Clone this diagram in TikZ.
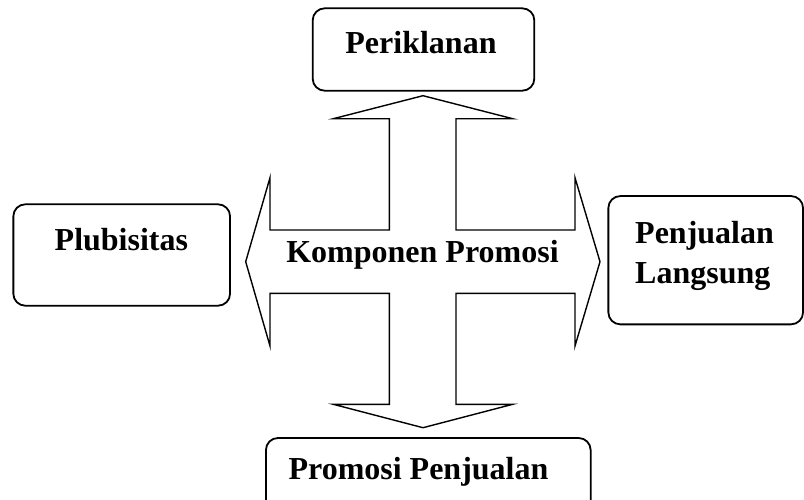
\documentclass[tikz,border=0pt]{standalone}
\usepackage{fontspec}
\setmainfont{Liberation Serif}
\usepackage{tikz}

\begin{document}
\begin{tikzpicture}[
    x=1pt, y=-1pt,
    box/.style={draw, line width=1.8pt, rounded corners=12pt, inner sep=0pt},
    caption/.style={font=\fontsize{32}{40}\selectfont\bfseries, inner sep=0pt},
    cross/.style={draw, line width=1.4pt, line join=miter}
]
    \useasboundingbox (0,0) rectangle (804,499);

    % BOXES
    \node[box, minimum width=221.6pt, minimum height=82.4pt] (periklanan) at (423.5,49.5) {};
    \node[box, minimum width=216.7pt, minimum height=101.4pt] (plubisitas) at (121.7,255) {};
    \node[box, minimum width=194.7pt, minimum height=128.3pt] (langsung) at (705.7,260.2) {};
    \node[box, minimum width=324.7pt, minimum height=77pt] (promosi) at (428.3,476.5) {};

    % CROSS ARROW
    \draw[cross] (389.3,118.7) -- (333.3,118.7) -- (423,95.7) -- (512.7,118.7) -- (456,118.7)
        -- (456,230) -- (575,230) -- (575,177.7) -- (600,261.7) -- (575,346) -- (575,293.3)
        -- (456,293.3) -- (456,404.3) -- (512.7,404.3) -- (423,427.7) -- (333.3,404.3) -- (389.3,404.3)
        -- (389.3,293.3) -- (270,293.3) -- (270,346) -- (245.7,261.7) -- (270,177.7) -- (270,230)
        -- (389.3,230) -- cycle;

    % TEXTS
    \node[caption, anchor=base] (komponen) at (422.5,262.7) {Komponen Promosi};
    \node[caption, anchor=base] (periklanan_text) at (421,53.3) {Periklanan};
    \node[caption, anchor=base] (plubisitas_text) at (121.4,250) {Plubisitas};
    \node[caption, anchor=base west, align=left] (langsung_text) at (635,283.3) {Penjualan\\Langsung};
    \node[caption, anchor=base] (promosi_text) at (418.5,479.3) {Promosi Penjualan};

\end{tikzpicture}
\end{document}
